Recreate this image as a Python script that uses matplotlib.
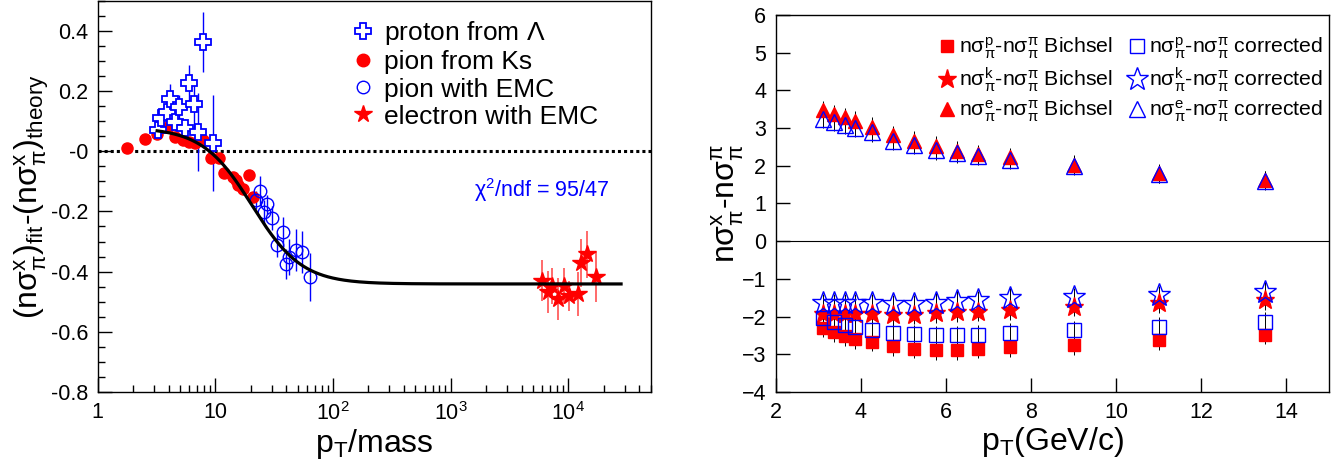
import numpy as np
import matplotlib
matplotlib.use("Agg")
import matplotlib.pyplot as plt
from matplotlib.lines import Line2D
from matplotlib.ticker import FixedLocator, NullFormatter, LogLocator

plt.rcParams['font.family'] = ['Liberation Sans', 'DejaVu Sans']
plt.rcParams['mathtext.fontset'] = 'custom'
plt.rcParams['mathtext.rm'] = 'Liberation Sans'
plt.rcParams['mathtext.it'] = 'Liberation Sans:italic'
plt.rcParams['mathtext.bf'] = 'Liberation Sans:bold'
plt.rcParams['mathtext.default'] = 'regular'

RED = '#ff0000'
BLUE = '#0000ff'

# ---------------- left panel data ----------------
# pion from Ks (red filled circles)
ks_x = [1.79, 2.50, 3.20, 3.94, 4.58, 5.29, 6.02, 6.76, 7.91, 9.20, 10.8, 11.9, 14.0, 15.0, 15.5, 17.3, 19.2, 20.7]
ks_y = [0.011, 0.042, 0.056, 0.081, 0.048, 0.037, 0.031, 0.026, 0.037, -0.024, -0.024, -0.074, -0.086, -0.097, -0.113, -0.124, -0.080, -0.152]

# proton from Lambda (blue open crosses)
lam_x = [3.25, 3.46, 3.87, 4.08, 4.58, 4.95, 5.57, 6.02, 6.64, 7.08, 7.91, 9.62]
lam_y = [0.070, 0.109, 0.131, 0.172, 0.098, 0.148, 0.076, 0.226, 0.157, 0.064, 0.364, 0.028]
lam_e = [0.02, 0.03, 0.04, 0.05, 0.03, 0.04, 0.03, 0.06, 0.08, 0.13, 0.10, 0.16]

# pion with EMC (blue open circles)
emc_x = [22.1, 23.9, 26.0, 27.7, 30.2, 33.1, 37.2, 40.2, 42.4, 48.2, 54.9, 63.9]
emc_y = [-0.163, -0.132, -0.202, -0.177, -0.222, -0.311, -0.267, -0.374, -0.350, -0.328, -0.336, -0.419]
emc_e = [0.03, 0.05, 0.04, 0.03, 0.04, 0.04, 0.05, 0.05, 0.06, 0.07, 0.07, 0.08]

# electron with EMC (red stars)
ele_x = [5940, 6680, 7230, 8110, 9080, 10100, 12000, 12800, 14300, 17000]
ele_y = [-0.430, -0.469, -0.447, -0.491, -0.447, -0.480, -0.474, -0.372, -0.343, -0.419]
ele_e = [0.067, 0.07, 0.06, 0.07, 0.06, 0.05, 0.072, 0.08, 0.078, 0.083]

# fit function parameters (tanh in log10 x)
fit_c, fit_d, fit_m, fit_w = -0.181, 0.26, 1.313, 0.423
fit_range = (3.2, 2.8e4)

# ---------------- right panel data ----------------
pt = [3.11, 3.37, 3.62, 3.87, 4.25, 4.76, 5.25, 5.76, 6.25, 6.76, 7.5, 9.0, 11.0, 13.5]
p_bich = [-2.30, -2.42, -2.52, -2.60, -2.67, -2.79, -2.85, -2.89, -2.89, -2.86, -2.82, -2.76, -2.63, -2.49]
k_bich = [-1.94, -1.94, -1.94, -1.94, -1.94, -1.96, -1.96, -1.91, -1.89, -1.87, -1.83, -1.74, -1.65, -1.57]
e_bich = [3.47, 3.37, 3.28, 3.19, 3.03, 2.81, 2.66, 2.53, 2.40, 2.31, 2.22, 2.02, 1.80, 1.62]
p_corr = [-2.03, -2.14, -2.23, -2.27, -2.36, -2.43, -2.47, -2.49, -2.49, -2.48, -2.43, -2.36, -2.27, -2.14]
k_corr = [-1.65, -1.65, -1.65, -1.65, -1.65, -1.68, -1.68, -1.63, -1.58, -1.56, -1.50, -1.48, -1.43, -1.34]
e_corr = [3.25, 3.17, 3.08, 3.01, 2.88, 2.66, 2.55, 2.41, 2.33, 2.26, 2.15, 2.00, 1.78, 1.60]
err_r = 0.25

fig = plt.figure(figsize=(13.4, 4.68), dpi=100)
ax1 = fig.add_axes([0.0729, 0.1624, 0.4127, 0.836])
ax2 = fig.add_axes([0.579, 0.1624, 0.4128, 0.806])

# ---- left ----
ax1.set_xscale('log')
ax1.set_xlim(1, 5e4)
ax1.set_ylim(-0.8, 0.5)
ax1.axhline(0, color='black', lw=2.2, ls=(0, (1, 1)), zorder=1)

xf = np.logspace(np.log10(fit_range[0]), np.log10(fit_range[1]), 400)
yf = fit_c - fit_d * np.tanh((np.log10(xf) - fit_m) / fit_w)

ax1.errorbar(lam_x, lam_y, yerr=lam_e, fmt='none', ecolor=BLUE, elinewidth=1.0, zorder=2)
ax1.plot(ks_x, ks_y, 'o', color=RED, ms=8, mec=RED, zorder=3)
ax1.plot(lam_x, lam_y, 'P', ms=12, mfc='white', mec=BLUE, mew=1.3, zorder=4)
ax1.errorbar(emc_x, emc_y, yerr=emc_e, fmt='none', ecolor=BLUE, elinewidth=1.0, zorder=2)
ax1.plot(emc_x, emc_y, 'o', ms=9, mfc='none', mec=BLUE, mew=1.0, zorder=4)
ax1.errorbar(ele_x, ele_y, yerr=ele_e, fmt='none', ecolor='#ff5050', elinewidth=1.2, zorder=2)
ax1.plot(ele_x, ele_y, '*', ms=13, color=RED, mec=RED, zorder=4)
ax1.plot(xf, yf, color='black', lw=2.3, zorder=5)

ax1.text(1580, -0.13, r'$\chi^{2}$/ndf = 95/47', color=BLUE, fontsize=15.5, va='center')

handles = [
    Line2D([], [], ls='none', marker='P', ms=12, mfc='white', mec=BLUE, mew=1.3),
    Line2D([], [], ls='none', marker='o', ms=9, color=RED),
    Line2D([], [], ls='none', marker='o', ms=9, mfc='none', mec=BLUE),
    Line2D([], [], ls='none', marker='*', ms=13, color=RED),
]
labels = [r'proton from $\Lambda$', 'pion from Ks', 'pion with EMC', 'electron with EMC']
ax1.legend(handles, labels, loc='upper left', bbox_to_anchor=(0.42, 1.0), frameon=False,
           fontsize=19, handletextpad=0.25, labelspacing=0.12, borderpad=0.2, handlelength=1.1)

ax1.set_yticks([-0.8, -0.6, -0.4, -0.2, 0, 0.2, 0.4])
ax1.set_yticklabels(['-0.8', '-0.6', '-0.4', '-0.2', '-0', '0.2', '0.4'])
ax1.yaxis.set_minor_locator(FixedLocator(np.arange(-0.8, 0.501, 0.05)))
ax1.xaxis.set_major_locator(FixedLocator([1, 10, 100, 1000, 10000]))
ax1.set_xticklabels(['1', '10', r'$10^{2}$', r'$10^{3}$', r'$10^{4}$'])
ax1.xaxis.set_minor_locator(LogLocator(base=10, subs=np.arange(2, 10), numticks=20))
ax1.xaxis.set_minor_formatter(NullFormatter())
ax1.set_xlabel(r'p$_{T}$/mass', fontsize=23, labelpad=2)
ax1.set_ylabel(r'(n$\sigma_{\pi}^{x}$)$_{fit}$-(n$\sigma_{\pi}^{x}$)$_{theory}$', fontsize=23, labelpad=0)

# ---- right ----
ax2.set_xlim(2, 15)
ax2.set_ylim(-4, 6)
ax2.axhline(0, color='black', lw=0.8, zorder=1)
series = [
    (p_bich, 's', dict(color=RED, ms=9)),
    (k_bich, '*', dict(color=RED, ms=14)),
    (e_bich, '^', dict(color=RED, ms=10)),
    (p_corr, 's', dict(mfc='none', mec=BLUE, ms=10, mew=1.0)),
    (k_corr, '*', dict(mfc='none', mec=BLUE, ms=17, mew=1.0)),
    (e_corr, '^', dict(mfc='none', mec=BLUE, ms=11, mew=1.0)),
]
for vals, mk, kw in series:
    ax2.errorbar(pt, vals, yerr=err_r, fmt='none', ecolor='black', elinewidth=0.7, zorder=2)
for i, (vals, mk, kw) in enumerate(series):
    ax2.plot(pt, vals, ls='none', marker=mk, zorder=3 + i, **kw)

rh = [Line2D([], [], ls='none', marker=mk, **kw) for vals, mk, kw in series]
rl = [r'n$\sigma_{\pi}^{p}$-n$\sigma_{\pi}^{\pi}$ Bichsel',
      r'n$\sigma_{\pi}^{k}$-n$\sigma_{\pi}^{\pi}$ Bichsel',
      r'n$\sigma_{\pi}^{e}$-n$\sigma_{\pi}^{\pi}$ Bichsel',
      r'n$\sigma_{\pi}^{p}$-n$\sigma_{\pi}^{\pi}$ corrected',
      r'n$\sigma_{\pi}^{k}$-n$\sigma_{\pi}^{\pi}$ corrected',
      r'n$\sigma_{\pi}^{e}$-n$\sigma_{\pi}^{\pi}$ corrected']
ax2.legend(rh, rl, ncol=2, loc='upper right', bbox_to_anchor=(1.017, 0.985), frameon=False,
           fontsize=15.3, handletextpad=0.1, labelspacing=0.22, columnspacing=0.6,
           borderpad=0.2, handlelength=1.0)

ax2.set_xticks([2, 4, 6, 8, 10, 12, 14])
ax2.set_yticks(range(-4, 7))
ax2.set_xlabel(r'p$_{T}$(GeV/c)', fontsize=23, labelpad=2)
ax2.set_ylabel(r'n$\sigma_{\pi}^{x}$-n$\sigma_{\pi}^{\pi}$', fontsize=23, labelpad=-3)

for ax in (ax1, ax2):
    for s in ax.spines.values():
        s.set_linewidth(1.0)
    ax.tick_params(which='major', direction='in', length=10, width=1, labelsize=15.5, pad=7,
                   top=False, right=False)
    ax.tick_params(which='minor', direction='in', length=5, width=1, top=False, right=False)

fig.savefig('out.png', dpi=100)
